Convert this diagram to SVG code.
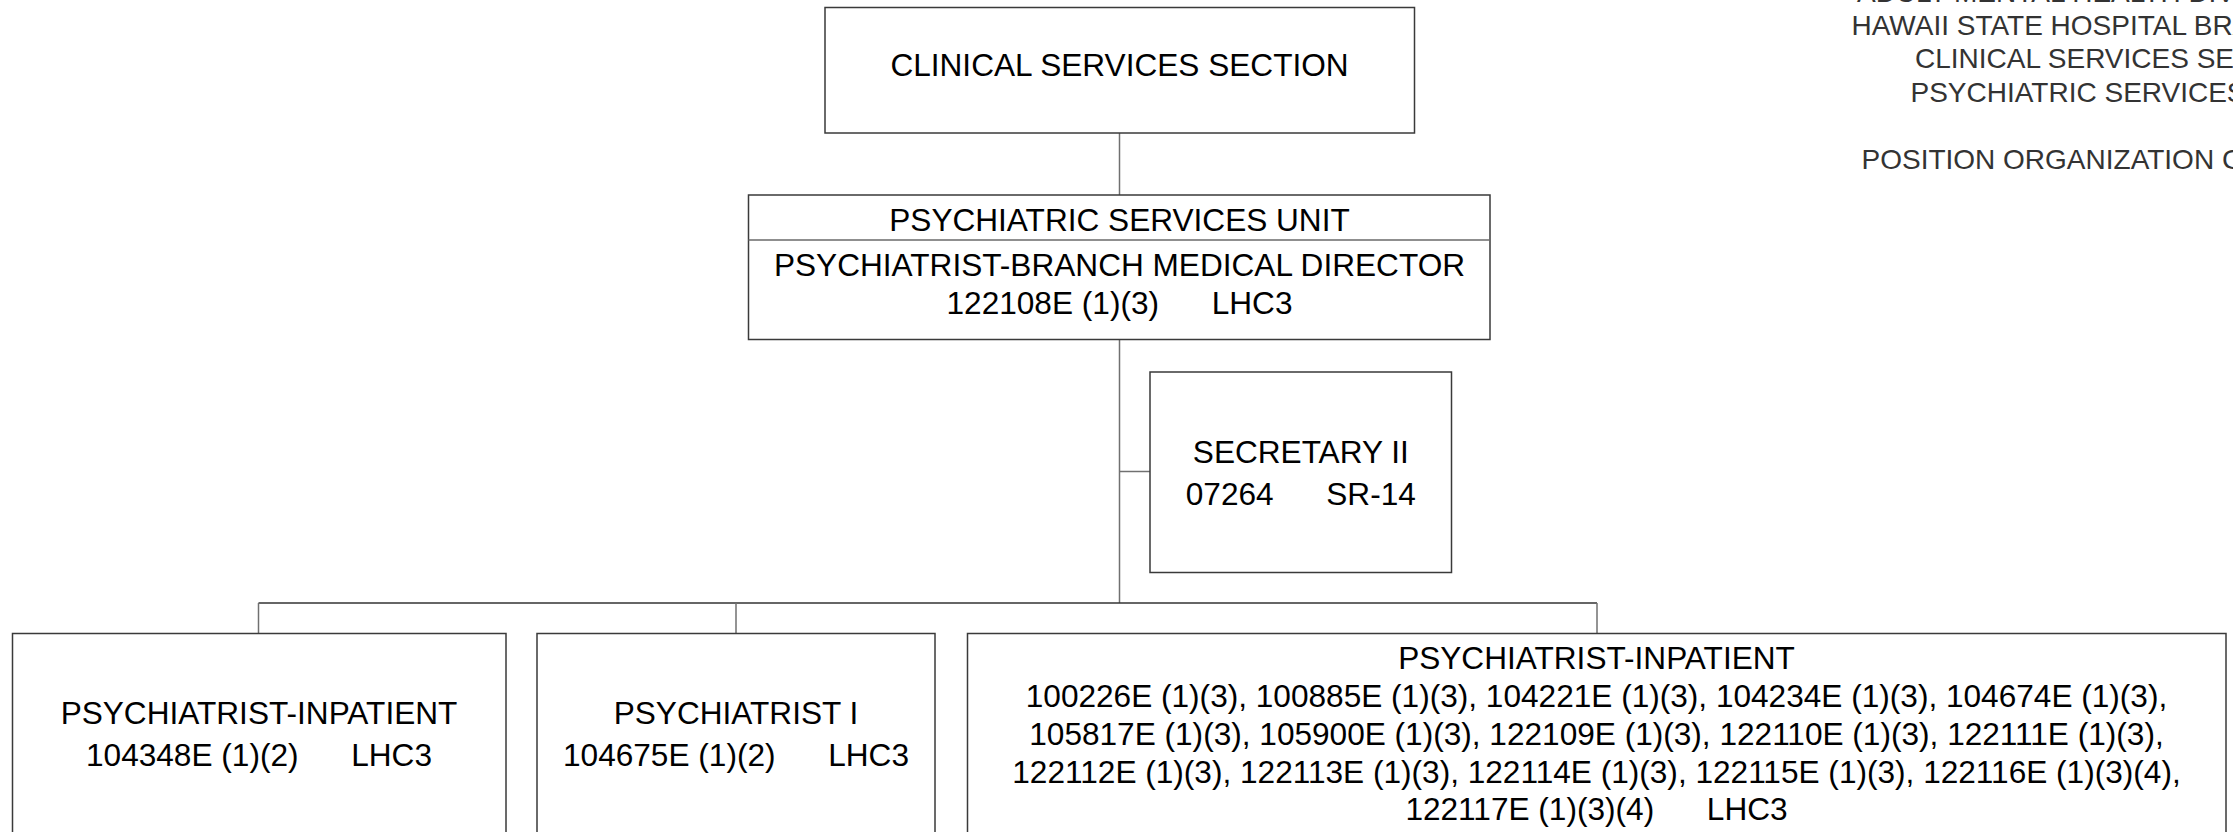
<svg xmlns="http://www.w3.org/2000/svg" width="2233" height="832" viewBox="0 0 2233 832">
<style>
  .box { fill: #ffffff; stroke: #3a3a3a; stroke-width: 1.5; }
  .div { stroke: #6a6a6a; stroke-width: 1.5; }
  .t { font-family: "Liberation Sans", Arial, sans-serif; font-size: 31.6px; fill: #000000; text-anchor: middle; white-space: pre; }
  .hdr { font-family: "Liberation Sans", Arial, sans-serif; font-size: 28px; fill: #333333; white-space: pre; }
  .conn line { stroke: #707070; stroke-width: 1.5; fill: none; }
  .conn line.bus { stroke: #333333; }
</style>
<rect x="0" y="0" width="2233" height="832" fill="#ffffff"/>

<g id="title">
  <text class="hdr" x="1857" y="2">ADULT MENTAL HEALTH DIVISION</text>
  <text class="hdr" x="1851.5" y="35">HAWAII STATE HOSPITAL BRANCH</text>
  <text class="hdr" x="1915" y="68.3">CLINICAL SERVICES SECTION</text>
  <text class="hdr" x="1910.5" y="101.7">PSYCHIATRIC SERVICES UNIT</text>
  <text class="hdr" x="1861.5" y="169">POSITION ORGANIZATION CHART</text>
</g>

<g class="conn" id="connectors">
  <line x1="1119.5" y1="133" x2="1119.5" y2="195"/>
  <line x1="1119.5" y1="339.5" x2="1119.5" y2="603"/>
  <line x1="1119.5" y1="471.5" x2="1150" y2="471.5"/>
  <line class="bus" x1="258.5" y1="603" x2="1597" y2="603"/>
  <line x1="258.5" y1="603" x2="258.5" y2="633"/>
  <line x1="736" y1="603" x2="736" y2="633"/>
  <line x1="1597" y1="603" x2="1597" y2="633"/>
</g>

<g id="clinical-services-section">
  <rect class="box" x="825" y="7.5" width="589.5" height="125.5"/>
  <text class="t" x="1119.5" y="75.5">CLINICAL SERVICES SECTION</text>
</g>

<g id="psychiatric-services-unit">
  <rect class="box" x="748.5" y="195" width="741.5" height="144.5"/>
  <line class="div" x1="748.5" y1="240" x2="1490" y2="240"/>
  <text class="t" x="1119.5" y="231">PSYCHIATRIC SERVICES UNIT</text>
  <text class="t" x="1119.5" y="276">PSYCHIATRIST-BRANCH MEDICAL DIRECTOR</text>
  <text class="t" x="1119.5" y="313.5">122108E (1)(3)      LHC3</text>
</g>

<g id="secretary-ii">
  <rect class="box" x="1150" y="372" width="301.5" height="200.5"/>
  <text class="t" x="1300.8" y="462.7">SECRETARY II</text>
  <text class="t" x="1300.8" y="504.5">07264      SR-14</text>
</g>

<g id="psychiatrist-inpatient-104348e">
  <rect class="box" x="12.5" y="633.5" width="493.5" height="210"/>
  <text class="t" x="259" y="724">PSYCHIATRIST-INPATIENT</text>
  <text class="t" x="259" y="766">104348E (1)(2)      LHC3</text>
</g>

<g id="psychiatrist-i">
  <rect class="box" x="537" y="633.5" width="398" height="210"/>
  <text class="t" x="736" y="724">PSYCHIATRIST I</text>
  <text class="t" x="736" y="766">104675E (1)(2)      LHC3</text>
</g>

<g id="psychiatrist-inpatient-group">
  <rect class="box" x="967.5" y="633.5" width="1258.5" height="210"/>
  <text class="t" x="1596.5" y="669">PSYCHIATRIST-INPATIENT</text>
  <text class="t" x="1596.5" y="707">100226E (1)(3), 100885E (1)(3), 104221E (1)(3), 104234E (1)(3), 104674E (1)(3),</text>
  <text class="t" x="1596.5" y="745">105817E (1)(3), 105900E (1)(3), 122109E (1)(3), 122110E (1)(3), 122111E (1)(3),</text>
  <text class="t" x="1596.5" y="782.5">122112E (1)(3), 122113E (1)(3), 122114E (1)(3), 122115E (1)(3), 122116E (1)(3)(4),</text>
  <text class="t" x="1596.5" y="820">122117E (1)(3)(4)      LHC3</text>
</g>
</svg>
